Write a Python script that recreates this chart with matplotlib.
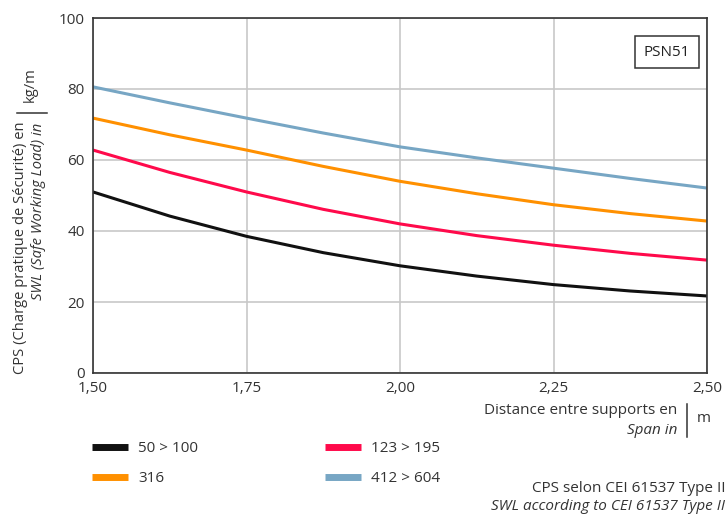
import matplotlib
matplotlib.use("Agg")
import matplotlib.pyplot as plt
from matplotlib.lines import Line2D

plt.rcParams['font.family'] = ['Open Sans', 'DejaVu Sans']

span = [1.50, 1.625, 1.75, 1.875, 2.00, 2.125, 2.25, 2.375, 2.50]
black = [51.0, 44.2, 38.5, 33.9, 30.2, 27.3, 24.9, 23.1, 21.7]
red = [62.8, 56.5, 51.0, 46.1, 42.0, 38.7, 36.0, 33.7, 31.8]
orange = [71.8, 67.1, 62.8, 58.2, 54.0, 50.5, 47.4, 44.9, 42.8]
blue = [80.6, 76.1, 71.8, 67.6, 63.7, 60.6, 57.7, 54.8, 52.1]

series = [("50 > 100", black, "#111111"),
          ("123 > 195", red, "#ff0a4b"),
          ("316", orange, "#ff9000"),
          ("412 > 604", blue, "#77a6c4")]

xticks = [1.50, 1.75, 2.00, 2.25, 2.50]
xticklabels = ["1,50", "1,75", "2,00", "2,25", "2,50"]
yticks = [0, 20, 40, 60, 80, 100]

fig = plt.figure(figsize=(7.27, 5.15), dpi=100)
ax = fig.add_axes([93/727, 1-373/515, 614/727, 355/515])

lines = {}
for label, vals, col in series:
    lines[label], = ax.plot(span, vals, color=col, lw=2.2, solid_capstyle='butt')

ax.set_xlim(1.5, 2.5)
ax.set_ylim(0, 100)
ax.set_xticks(xticks)
ax.set_xticklabels(xticklabels)
ax.set_yticks(yticks)
ax.tick_params(length=0, labelsize=11, colors='#333333', pad=6)
ax.grid(True, color='#c8c8c8', lw=1.2)
ax.set_axisbelow(True)
for s in ax.spines.values():
    s.set_color('#333333')
    s.set_linewidth(1.2)

# PSN51 box
ax.text(0.935, 0.904, "PSN51", transform=ax.transAxes, ha='center', va='center',
        fontsize=11, color='#222222',
        bbox=dict(boxstyle='square,pad=0.55', fc='white', ec='#333333', lw=1.1))

# y label
fig.text(21/727, 1-121/515, "CPS (Charge pratique de Sécurité) en", rotation=90,
         ha='center', va='top', fontsize=10.6, color='#333333')
fig.text(39/727, 1-123/515, "SWL (Safe Working Load) in", rotation=90,
         ha='center', va='top', fontsize=10.6, color='#333333', style='italic')
fig.add_artist(Line2D([17/727, 47/727], [1-113/515, 1-113/515], color='#333333', lw=1.1))
fig.text(30/727, 1-85/515, "kg/m", rotation=90, ha='center', va='center',
         fontsize=10.6, color='#333333')

# x label
fig.text(677/727, 1-410/515, "Distance entre supports en", ha='right', va='center',
         fontsize=11, color='#333333')
fig.text(677/727, 1-430/515, "Span in", ha='right', va='center',
         fontsize=11, color='#333333', style='italic')
fig.add_artist(Line2D([687/727, 687/727], [1-404/515, 1-437/515], color='#333333', lw=1.1))
fig.text(697/727, 1-418/515, "m", ha='left', va='center', fontsize=11, color='#333333')

# legend (filled column-wise)
order = ["50 > 100", "316", "123 > 195", "412 > 604"]
leg = fig.legend([lines[k] for k in order], order, ncol=2, frameon=False,
                 loc='upper left', bbox_to_anchor=(80/727, 1-429/515),
                 fontsize=11, handlelength=2.35, handleheight=0.6,
                 columnspacing=8.3, labelspacing=1.0, handletextpad=0.65,
                 labelcolor='#333333', borderpad=0.3)
for h in leg.legend_handles:
    h.set_linewidth(5)

# footnote
fig.text(725/727, 1-488/515, "CPS selon CEI 61537 Type II", ha='right', va='center',
         fontsize=11, color='#333333')
fig.text(725/727, 1-506/515, "SWL according to CEI 61537 Type II", ha='right', va='center',
         fontsize=11, color='#333333', style='italic')

fig.savefig("out.png", dpi=100)
